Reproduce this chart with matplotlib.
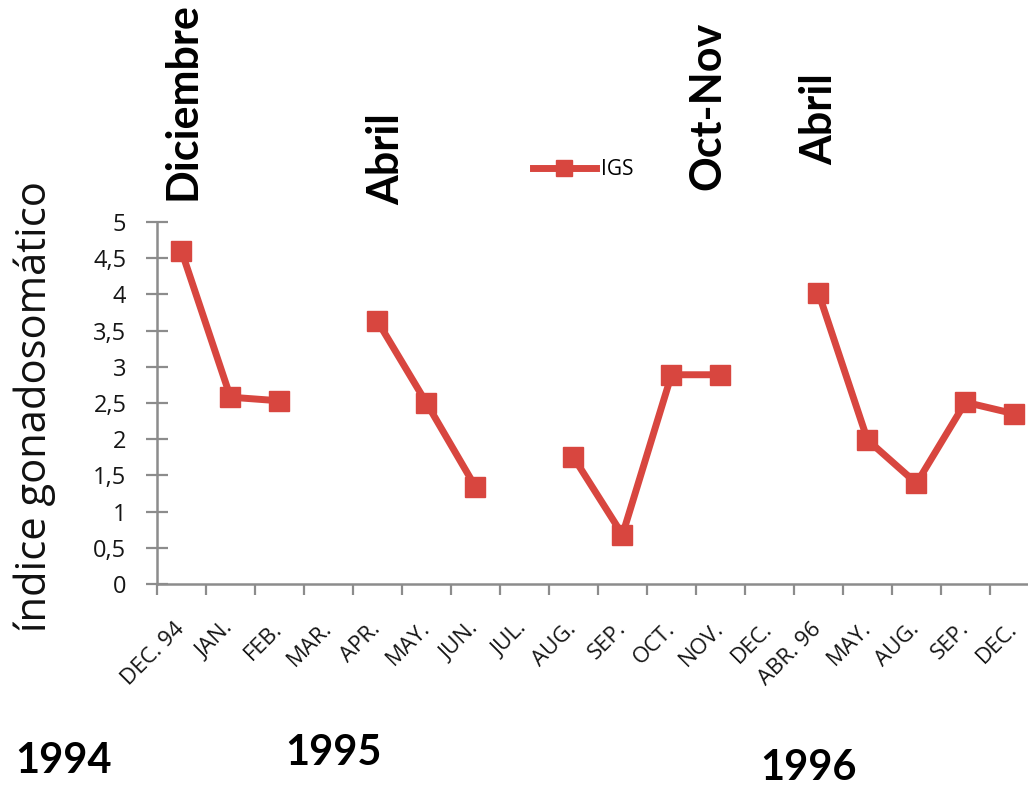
import numpy as np
import matplotlib
matplotlib.use("Agg")
import matplotlib.pyplot as plt

# Monthly sampling labels and gonadosomatic index (IGS); None = no sample
months = ["DEC. 94", "JAN.", "FEB.", "MAR.", "APR.", "MAY.", "JUN.", "JUL.",
          "AUG.", "SEP.", "OCT.", "NOV.", "DEC.", "ABR. 96", "MAY.", "AUG.",
          "SEP.", "DEC."]
igs = [4.6, 2.58, 2.53, None, 3.63, 2.5, 1.34, None,
       1.75, 0.68, 2.89, 2.89, None, 4.02, 1.99, 1.39, 2.51, 2.35]
y_ticks = [0, 0.5, 1, 1.5, 2, 2.5, 3, 3.5, 4, 4.5, 5]
y_tick_labels = ["0", "0,5", "1", "1,5", "2", "2,5", "3", "3,5", "4", "4,5", "5"]

# Spawning peaks written above the series: (label, x centre, bottom) in figure fractions
peaks = [("Diciembre", 0.1775, 0.747), ("Abril", 0.3755, 0.7405),
         ("Oct-Nov", 0.688, 0.7595), ("Abril", 0.7965, 0.791)]
# Year captions under the axis: (label, left, baseline) in figure fractions
years = [("1994", 0.0146, 0.0215), ("1995", 0.2775, 0.0316), ("1996", 0.7395, 0.0127)]

RED = "#D8463F"
AXIS = "#8C8C8C"
TXT = "#151515"

fig = plt.figure(figsize=(10.28, 7.9), dpi=100)
ax = fig.add_axes([0.1527, 0.2608, 0.858, 0.4582])

x = np.arange(len(months))
y = np.array([np.nan if v is None else v for v in igs], dtype=float)
ax.plot(x, y, color=RED, lw=5, marker="s", ms=15, mfc=RED, mec=RED,
        label="IGS")

ax.set_xlim(-0.5, len(months) - 0.5)
ax.set_ylim(0, 5)

for side in ("top", "right"):
    ax.spines[side].set_visible(False)
for side in ("left", "bottom"):
    ax.spines[side].set_color(AXIS)
    ax.spines[side].set_linewidth(1.8)

ax.set_yticks(y_ticks)
ax.set_yticklabels(y_tick_labels, fontsize=17, color=TXT,
                   fontfamily="Open Sans")
ax.tick_params(axis="y", direction="inout", length=16, width=1.6,
               color=AXIS, pad=14)

# category boundaries carry the tick marks, labels sit at the centres
ax.set_xticks(np.arange(len(months) + 1) - 0.5)
ax.set_xticklabels([])
ax.tick_params(axis="x", direction="out", length=8, width=1.6, color=AXIS)
ax.set_xticks(x, minor=True)
ax.set_xticklabels(months, minor=True, rotation=45, ha="right", va="center",
                   rotation_mode="anchor", fontsize=16, color=TXT,
                   fontfamily="Open Sans")
ax.tick_params(axis="x", which="minor", length=0, pad=30)

fig.text(0.034, 0.485, "índice gonadosomático", rotation=90, ha="center",
         va="center", fontsize=30, fontfamily="Open Sans", color="#111111")

for label, fx, fy in peaks:
    fig.text(fx, fy, label, rotation=90, ha="center", va="bottom",
             fontsize=31, fontweight="bold", fontfamily="Lato", color="black")

for label, fx, fy in years:
    fig.text(fx, fy, label, ha="left", va="baseline", fontsize=30,
             fontweight="bold", fontfamily="Lato", color="black")

ax.legend(loc="center left", bbox_to_anchor=(0.5085, 0.785),
          bbox_transform=fig.transFigure, frameon=False, borderpad=0,
          handlelength=3.0, handletextpad=0.25, markerscale=0.75,
          prop={"family": "Open Sans", "size": 15})

fig.savefig("out.png", dpi=100)
